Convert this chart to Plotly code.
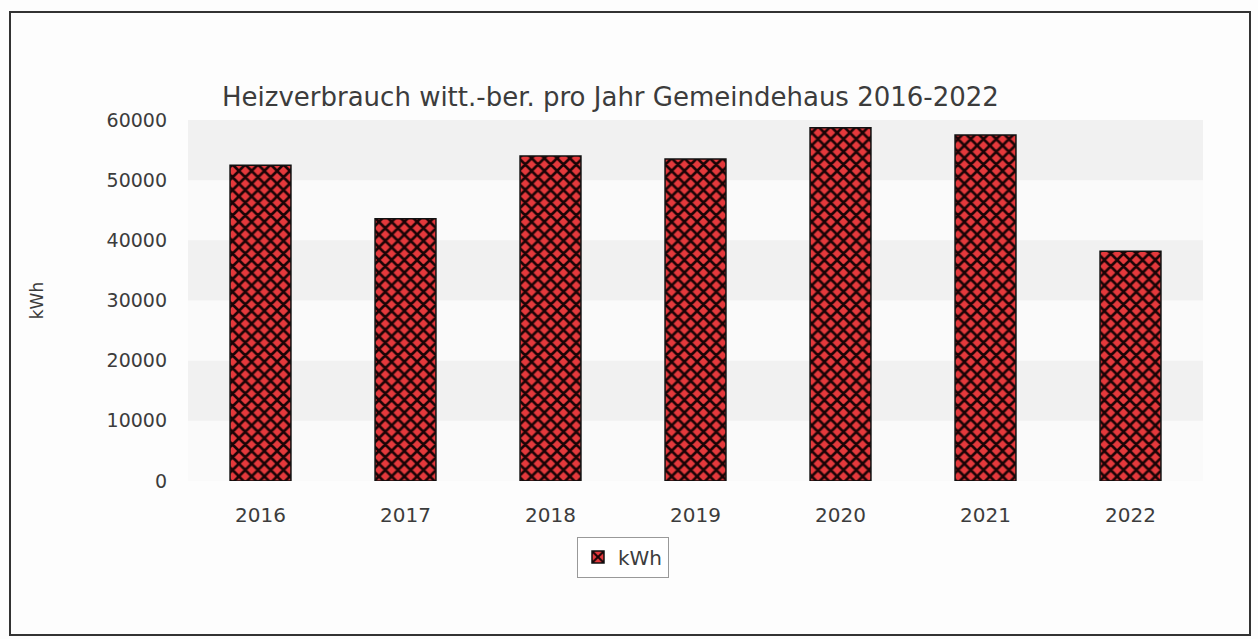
import plotly.graph_objects as go

years = ["2016", "2017", "2018", "2019", "2020", "2021", "2022"]
kwh = [52500, 43600, 54000, 53500, 58700, 57500, 38200]
y_ticks = [0, 10000, 20000, 30000, 40000, 50000, 60000]
title_text = "Heizverbrauch witt.-ber. pro Jahr Gemeindehaus 2016-2022"
series_name = "kWh"

L, R, T, B = 188, 55, 120, 158
W, H = 1258, 639
PW, PH = W - L - R, H - T - B

fig = go.Figure()
fig.add_trace(go.Bar(
    x=years, y=kwh, name=series_name,
    marker=dict(
        color="#e03a3a",
        line=dict(color="#111111", width=1.5),
        pattern=dict(shape="x", fgcolor="#1a0406", bgcolor="#e5393c",
                     size=9, solidity=0.5, fillmode="replace"),
    ),
    showlegend=True,
))

shapes = []
for i in range(len(y_ticks) - 1):
    if i % 2 == 1:
        shapes.append(dict(type="rect", xref="paper", yref="y", x0=0, x1=1,
                           y0=y_ticks[i], y1=y_ticks[i + 1],
                           fillcolor="#f1f1f1", line_width=0, layer="below"))
# outer frame
shapes.append(dict(type="rect", xref="paper", yref="paper",
                   x0=-(L - 10) / PW, x1=(1250 - L) / PW,
                   y0=-(635 - (T + PH)) / PH, y1=1 + (T - 12) / PH,
                   line=dict(color="#333333", width=2), fillcolor="rgba(0,0,0,0)"))

fig.update_layout(
    width=W, height=H,
    margin=dict(l=L, r=R, t=T, b=B),
    paper_bgcolor="#fdfdfd",
    plot_bgcolor="#fafafa",
    font=dict(family="DejaVu Sans", color="#3c3c3c", size=16),
    title=dict(text=title_text, x=222 / W, xanchor="left", xref="container",
               y=1 - 97 / H, yanchor="middle", yref="container",
               font=dict(size=26, color="#3c3c3c")),
    bargap=0.58,
    shapes=shapes,
    legend=dict(orientation="h", x=(623 - L) / PW, xanchor="center",
                y=-(557 - (T + PH)) / PH, yanchor="middle",
                bordercolor="#999999", borderwidth=1, bgcolor="#ffffff",
                font=dict(size=20)),
    xaxis=dict(showgrid=False, showline=False, ticks="", ticklabelstandoff=20,
               tickfont=dict(size=20)),
    yaxis=dict(title=dict(text="kWh", standoff=58, font=dict(size=17)), range=[0, 60000],
               tickvals=y_ticks, ticktext=[str(v) for v in y_ticks],
               showgrid=False, zeroline=False, showline=False,
               ticklabelstandoff=20, tickfont=dict(size=19)),
)

fig.write_html("out.html")
